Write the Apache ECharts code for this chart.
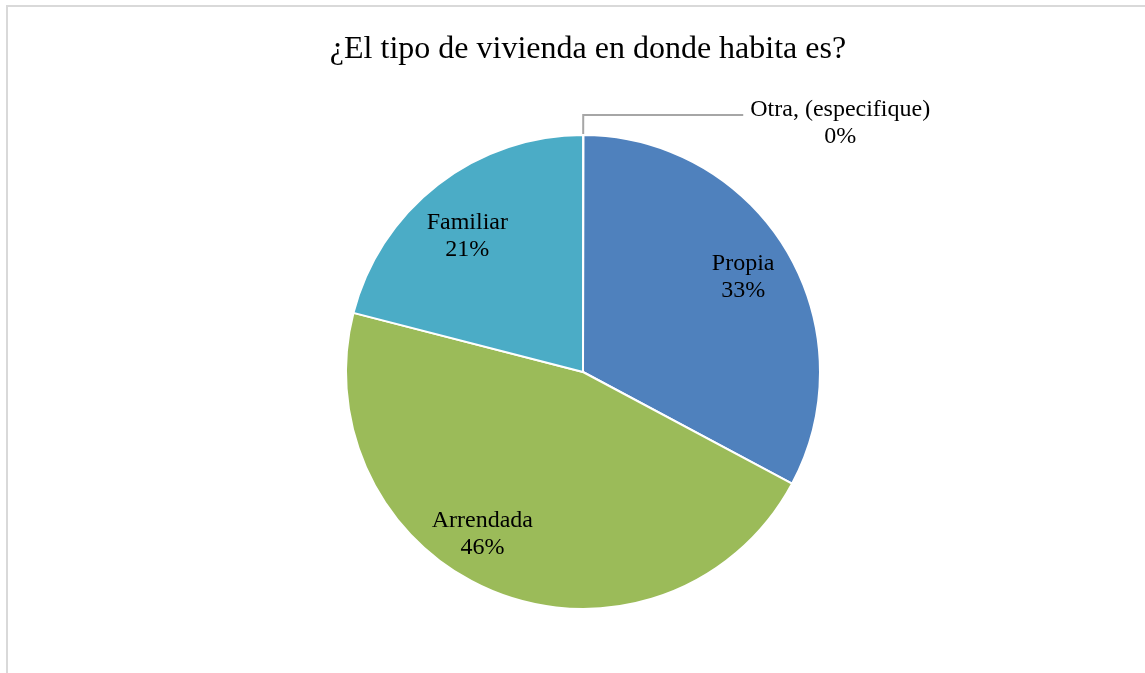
<!DOCTYPE html>
<html>
<head>
<meta charset="utf-8">
<script src="https://cdn.jsdelivr.net/npm/echarts@6/dist/echarts.min.js"></script>
<style>
  html, body { margin: 0; padding: 0; background: #fff; }
  #chart { width: 1145px; height: 673px; }
</style>
</head>
<body>
<div id="chart"></div>
<script>
// datos de la encuesta
const categories = ['Propia', 'Arrendada', 'Familiar', 'Otra, (especifique)']
const values = [32.8, 46.2, 21.0, 0]
const percentLabels = ['33%', '46%', '21%', '0%']
const colors = ['#4F81BD', '#9BBB59', '#4BACC6', '#8064A2']

const chart = echarts.init(document.getElementById('chart'))

const serif = '"Liberation Serif", "Times New Roman", serif'

// ajuste fino de las etiquetas interiores (estilo, no datos)
const labelOffsets = [[-2, 2], [-32, -14], [0, 14], [0, 0]]

const sliceData = categories.map((name, i) => ({
  value: values[i],
  name: name,
  itemStyle: { color: colors[i] },
  label: { show: i === 3 },
  labelLine: { show: i === 3 }
}))

// capa transparente solo para ubicar las etiquetas interiores
const labelData = categories.map((name, i) => ({
  value: values[i],
  name: name,
  label: { show: i !== 3, offset: labelOffsets[i] }
}))

const option = {
  animation: false,
  title: {
    text: '¿El tipo de vivienda en donde habita es?',
    left: 583,
    textAlign: 'center',
    top: 29,
    textStyle: {
      fontFamily: serif,
      fontSize: 32,
      fontWeight: 'normal',
      color: '#000'
    }
  },
  graphic: [
    {
      type: 'rect',
      shape: { x: 7, y: 6, width: 1200, height: 700 },
      style: { fill: 'none', stroke: '#d9d9d9', lineWidth: 2 },
      silent: true
    }
  ],
  series: [
    {
      name: 'Vivienda',
      type: 'pie',
      center: [583, 372],
      radius: 237,
      startAngle: 89.95,
      clockwise: true,
      avoidLabelOverlap: false,
      itemStyle: { borderColor: '#fff', borderWidth: 2 },
      label: {
        position: 'outside',
        distanceToLabelLine: 4,
        padding: [16, 0, 0, 0],
        fontFamily: serif,
        fontSize: 24,
        color: '#000',
        formatter: p => '{a|' + p.name + '}\n{a|' + percentLabels[p.dataIndex] + '}',
        rich: {
          a: {
            fontFamily: serif,
            fontSize: 24,
            lineHeight: 27,
            color: '#000',
            width: 186,
            align: 'center'
          }
        }
      },
      labelLine: {
        length: 20,
        length2: 160,
        lineStyle: { color: '#a6a6a6', width: 2 }
      },
      data: sliceData
    },
    {
      name: 'Etiquetas',
      type: 'pie',
      center: [583, 372],
      radius: [135, 237],
      startAngle: 89.95,
      clockwise: true,
      silent: true,
      avoidLabelOverlap: false,
      itemStyle: { color: 'rgba(0,0,0,0)' },
      label: {
        position: 'inside',
        fontFamily: serif,
        fontSize: 24,
        color: '#000',
        lineHeight: 27,
        formatter: p => p.name + '\n' + percentLabels[p.dataIndex]
      },
      labelLine: { show: false },
      data: labelData
    }
  ]
}

chart.setOption(option)
</script>
</body>
</html>
